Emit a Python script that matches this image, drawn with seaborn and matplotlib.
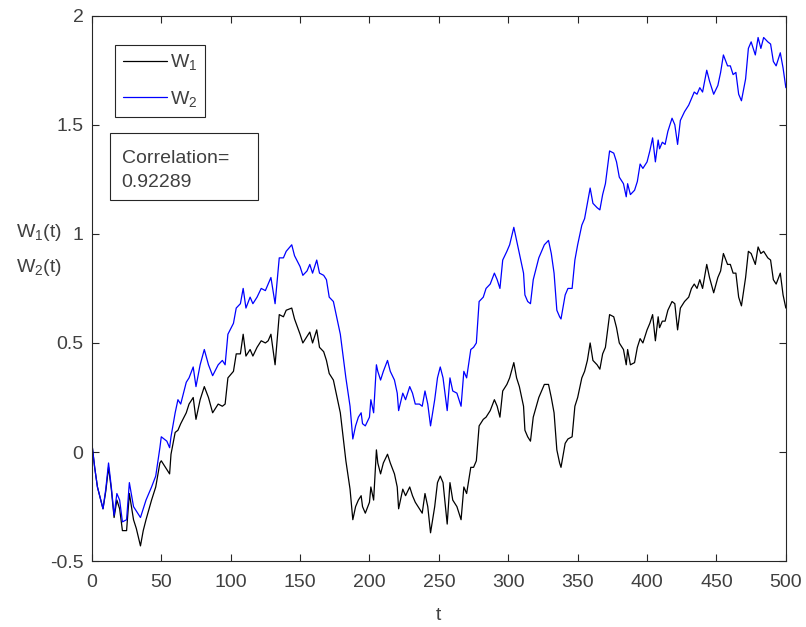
import numpy as np
import pandas as pd
import seaborn as sns
import matplotlib.pyplot as plt
from matplotlib.patches import Rectangle

# values
t = [0, 2, 4, 8, 10, 12, 14, 16, 18, 20, 22, 25, 27, 30, 32, 35, 37, 39, 43, 46,
     49, 50, 54, 56, 57, 60, 62, 64, 68, 70, 73, 75, 78, 81, 84, 87, 91, 94, 96, 98,
     102, 104, 107, 109, 111, 114, 116, 119, 122, 125, 127, 129, 132, 135, 138, 140, 144, 146, 150, 152,
     155, 157, 159, 162, 164, 167, 169, 171, 174, 176, 179, 181, 183, 186, 188, 190, 192, 194, 195, 197,
     200, 201, 203, 205,
     206, 208, 210, 213, 215, 218, 220, 221, 224, 226, 229, 231, 233, 236, 238, 240, 242, 244, 247, 249,
     251, 253, 256, 258, 260, 263, 266, 268, 270, 273, 275, 277, 279, 282, 284, 287, 290, 292, 294, 296,
     299, 301, 304,
     306, 308, 311, 312, 314, 316, 318, 322, 324, 326, 329, 331, 333, 335, 337, 338, 341, 343, 346, 348,
     350, 353, 355, 357, 359, 361, 364, 366, 368, 370, 373, 376, 378, 380, 383, 385, 386, 388, 391, 393,
     395, 397, 400, 402, 404, 406, 408,
     409, 411, 413, 415, 418, 420, 422, 424, 427, 430, 432, 434, 436, 438, 440, 443, 445, 448, 451, 453,
     455, 458, 460, 462, 464, 466, 468, 471, 473, 475, 478, 480, 482, 484, 487, 489, 491, 493, 496, 498,
     500]

w1 = [0.04, -0.07, -0.16, -0.26, -0.18, -0.07, -0.17, -0.30, -0.22, -0.26, -0.36, -0.36, -0.19, -0.31, -0.35, -0.43, -0.36, -0.31, -0.22, -0.16,
      -0.05, -0.04, -0.08, -0.10, -0.01, 0.09, 0.10, 0.13, 0.18, 0.22, 0.25, 0.15, 0.24, 0.30, 0.25, 0.18, 0.22, 0.21, 0.22, 0.34,
      0.37, 0.45, 0.45, 0.54, 0.44, 0.47, 0.44, 0.48, 0.51, 0.50, 0.51, 0.54, 0.40, 0.63, 0.62, 0.65, 0.66, 0.61, 0.54, 0.50,
      0.53, 0.55, 0.50, 0.56, 0.48, 0.46, 0.42, 0.36, 0.33, 0.27, 0.18, 0.07, -0.04, -0.17, -0.31, -0.25, -0.22, -0.20, -0.25, -0.28,
      -0.23, -0.16, -0.22, 0.01,
      -0.05, -0.10, -0.05, -0.01, -0.05, -0.10, -0.16, -0.26, -0.17, -0.20, -0.16, -0.20, -0.23, -0.26, -0.28, -0.19, -0.25, -0.37, -0.25, -0.14,
      -0.11, -0.14, -0.33, -0.14, -0.22, -0.25, -0.31, -0.16, -0.19, -0.07, -0.07, -0.04, 0.12, 0.15, 0.16, 0.19, 0.24, 0.21, 0.16, 0.28,
      0.31, 0.34, 0.41,
      0.34, 0.30, 0.21, 0.10, 0.07, 0.05, 0.16, 0.25, 0.28, 0.31, 0.31, 0.25, 0.18, 0.01, -0.05, -0.07, 0.04, 0.06, 0.07, 0.21,
      0.25, 0.34, 0.37, 0.42, 0.50, 0.42, 0.40, 0.38, 0.45, 0.48, 0.63, 0.62, 0.57, 0.50, 0.47, 0.40, 0.47, 0.40, 0.41, 0.48,
      0.52, 0.50, 0.56, 0.59, 0.63, 0.51, 0.62,
      0.57, 0.60, 0.60, 0.65, 0.69, 0.68, 0.56, 0.66, 0.69, 0.71, 0.75, 0.77, 0.75, 0.79, 0.75, 0.86, 0.80, 0.73, 0.80, 0.83,
      0.91, 0.86, 0.86, 0.82, 0.82, 0.71, 0.67, 0.80, 0.92, 0.91, 0.86, 0.94, 0.91, 0.92, 0.89, 0.88, 0.79, 0.77, 0.82, 0.72,
      0.66]

w2 = [0.04, -0.07, -0.16, -0.26, -0.17, -0.05, -0.16, -0.29, -0.19, -0.22, -0.32, -0.31, -0.14, -0.25, -0.27, -0.30, -0.26, -0.22, -0.16, -0.11,
      0.02, 0.07, 0.05, 0.02, 0.07, 0.18, 0.24, 0.22, 0.32, 0.34, 0.39, 0.30, 0.40, 0.47, 0.40, 0.35, 0.40, 0.42, 0.40, 0.54,
      0.59, 0.66, 0.68, 0.75, 0.66, 0.71, 0.68, 0.71, 0.75, 0.74, 0.77, 0.80, 0.68, 0.89, 0.89, 0.92, 0.95, 0.90, 0.85, 0.81,
      0.83, 0.86, 0.82, 0.88, 0.82, 0.81, 0.79, 0.71, 0.69, 0.63, 0.54, 0.44, 0.34, 0.21, 0.06, 0.12, 0.16, 0.18, 0.13, 0.12,
      0.16, 0.24, 0.18, 0.40,
      0.37, 0.33, 0.37, 0.42, 0.37, 0.33, 0.27, 0.19, 0.27, 0.24, 0.30, 0.27, 0.22, 0.22, 0.21, 0.28, 0.22, 0.12, 0.24, 0.34,
      0.39, 0.34, 0.19, 0.34, 0.28, 0.27, 0.21, 0.37, 0.34, 0.47, 0.48, 0.50, 0.69, 0.71, 0.75, 0.77, 0.82, 0.79, 0.75, 0.88,
      0.92, 0.95, 1.03,
      0.97, 0.91, 0.82, 0.72, 0.69, 0.68, 0.79, 0.89, 0.92, 0.95, 0.97, 0.91, 0.82, 0.65, 0.62, 0.61, 0.72, 0.75, 0.75, 0.88,
      0.95, 1.04, 1.07, 1.14, 1.21, 1.14, 1.12, 1.11, 1.18, 1.23, 1.38, 1.37, 1.33, 1.26, 1.23, 1.17, 1.23, 1.18, 1.20, 1.24,
      1.32, 1.30, 1.33, 1.38, 1.44, 1.33, 1.43,
      1.39, 1.42, 1.41, 1.47, 1.53, 1.50, 1.41, 1.52, 1.56, 1.59, 1.62, 1.65, 1.64, 1.67, 1.65, 1.75, 1.70, 1.64, 1.68, 1.74,
      1.82, 1.77, 1.77, 1.73, 1.74, 1.64, 1.61, 1.71, 1.85, 1.88, 1.82, 1.90, 1.85, 1.90, 1.88, 1.87, 1.79, 1.77, 1.83, 1.76,
      1.67]

corr_text = "Correlation=\n0.92289"

sns.set_style("ticks")
plt.rcParams['font.family'] = ['Liberation Sans', 'DejaVu Sans']
plt.rcParams['mathtext.fontset'] = 'custom'
plt.rcParams['mathtext.rm'] = 'Liberation Sans'
plt.rcParams['mathtext.it'] = 'Liberation Sans'

txt_col = '#404040'
fs = 14

fig = plt.figure(figsize=(8.06, 6.27), dpi=100)
ax = fig.add_axes([0.114, 0.105, 0.861, 0.870])

sns.lineplot(x=t, y=w1, color='k', linewidth=0.9, label='W$_1$', ax=ax)
sns.lineplot(x=t, y=w2, color='#0000ff', linewidth=0.9, label='W$_2$', ax=ax)

ax.set_xlim(0, 500)
ax.set_ylim(-0.5, 2)
ax.set_xticks(np.arange(0, 501, 50))
ax.set_yticks([-0.5, 0, 0.5, 1, 1.5, 2])
ax.set_yticklabels(['-0.5', '0', '0.5', '1', '1.5', '2'])
ax.tick_params(direction='in', top=True, right=True, labelsize=fs, labelcolor=txt_col,
               color='#262626', length=5, width=0.8)
ax.tick_params(axis='x', pad=9)
ax.tick_params(axis='y', pad=6)
for sp in ax.spines.values():
    sp.set_color('#262626')
    sp.set_linewidth(0.8)

ax.set_xlabel('t', fontsize=fs, color=txt_col, labelpad=12)
ax.set_ylabel('W$_1$(t)\nW$_2$(t)', fontsize=fs, color=txt_col, rotation=0,
              ha='center', va='center', linespacing=1.9)
ax.yaxis.set_label_coords(-0.076, 0.57)

leg = ax.legend(loc='upper left', bbox_to_anchor=(0.033, 0.947), fontsize=fs,
                frameon=True, fancybox=False, edgecolor='#262626', framealpha=1,
                handlelength=2.3, handletextpad=0.15, borderpad=0.4, labelspacing=0.85,
                borderaxespad=0)
leg.get_frame().set_linewidth(0.8)
for txt in leg.get_texts():
    txt.set_color(txt_col)

# correlation annotation box
ax.add_patch(Rectangle((0.026, 0.662), 0.213, 0.123, transform=ax.transAxes,
                       facecolor='white', edgecolor='#262626', linewidth=0.8, zorder=5))
ax.text(0.043, 0.7165, corr_text, transform=ax.transAxes, fontsize=fs,
        color=txt_col, va='center', ha='left', linespacing=1.5, zorder=6)

fig.savefig('out.png', dpi=100)
